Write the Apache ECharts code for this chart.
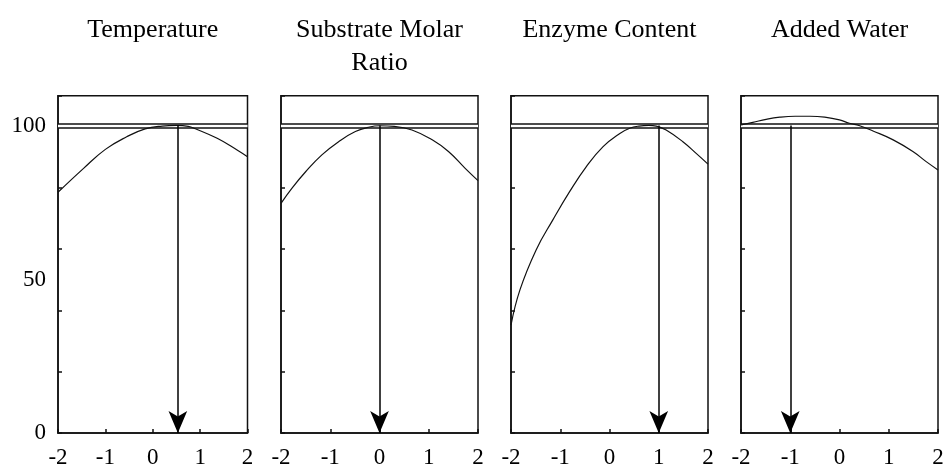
<!DOCTYPE html>
<html><head><meta charset="utf-8">
<script src="https://cdn.jsdelivr.net/npm/echarts@6/dist/echarts.min.js"></script>
<style>html,body{margin:0;padding:0;background:#fff}#c{width:947px;height:469px}</style>
</head><body><div id="c"></div>
<script>
// ---- data ----
const titles = ['Temperature', 'Substrate Molar\nRatio', 'Enzyme Content', 'Added Water'];
const xTicks = [-2, -1, 0, 1, 2];
const yLabels = [0, 50, 100];
const refLevel = 100.25;
const optimum = [0.53, 0, 1, -1];

const tempX = [-2, -1.46, -1.0, -0.55, -0.16, 0.2, 0.5, 0.75, 0.9, 1.36, 1.78, 2];
const tempY = [78.5, 86.3, 92.5, 96.6, 99.2, 100.1, 100.3, 100.0, 99.2, 96.1, 92.3, 90.1];

const ratioX = [-2, -1.78, -1.5, -1.17, -0.83, -0.49, -0.2, 0, 0.3, 0.66, 1.07, 1.4, 1.74, 2];
const ratioY = [74.9, 79.8, 85.2, 90.7, 95.0, 98.3, 99.8, 100.2, 100.0, 98.8, 95.6, 91.8, 86.3, 82.3];

const enzymeX = [-2, -1.82, -1.49, -1.15, -0.81, -0.47, -0.13, 0.21, 0.41, 0.6, 0.8, 0.95, 1.15, 1.49, 1.76, 2];
const enzymeY = [35.2, 46.6, 59.7, 69.5, 78.7, 86.9, 93.4, 97.7, 99.4, 100.1, 100.3, 100.1, 98.8, 95.0, 91.2, 87.7];

const waterX = [-2, -1.76, -1.49, -1.21, -0.9, -0.6, -0.3, 0, 0.2, 0.41, 0.68, 1.09, 1.49, 1.76, 2];
const waterY = [100.5, 101.3, 102.3, 103.0, 103.3, 103.3, 103.0, 102.1, 101.0, 100.2, 98.5, 95.6, 91.8, 88.5, 85.8];

const curvesX = [tempX, ratioX, enzymeX, waterX];
const curvesY = [tempY, ratioY, enzymeY, waterY];

// ---- layout ----
const FONT = 'Liberation Serif';
const panels = [
  {left: 58, width: 189.5},
  {left: 281, width: 197},
  {left: 511, width: 197},
  {left: 741, width: 197}
];
const gTop = 95.7, gHeight = 337.3;

const option = {
  backgroundColor: '#fff',
  animation: false,
  title: [], grid: [], xAxis: [], yAxis: [], series: []
};

panels.forEach((p, i) => {
  option.title.push({
    text: titles[i], left: p.left + p.width / 2, top: 14, textAlign: 'center', padding: 0,
    textStyle: {fontFamily: FONT, fontSize: 26, fontWeight: 'normal', color: '#000', lineHeight: 33}
  });
  option.grid.push({left: p.left, width: p.width, top: gTop, height: gHeight,
    show: true, borderColor: '#111', borderWidth: 1.5, backgroundColor: 'transparent'});
  option.xAxis.push({
    type: 'value', gridIndex: i, min: xTicks[0], max: xTicks[xTicks.length - 1], interval: 1,
    axisLine: {show: true, onZero: false, lineStyle: {color: '#111', width: 1.5}},
    axisTick: {show: true, inside: true, length: 4, lineStyle: {color: '#111', width: 1.5}},
    axisLabel: {show: true, fontFamily: FONT, fontSize: 23, color: '#000', margin: 13,
      showMinLabel: true, showMaxLabel: true},
    splitLine: {show: false}
  });
  // labelled axis
  option.yAxis.push({
    type: 'value', gridIndex: i, min: 0, max: 110, interval: 50, position: 'left',
    axisLine: {show: true, onZero: false, lineStyle: {color: '#111', width: 1.5}},
    axisTick: {show: false},
    axisLabel: {show: i === 0, fontFamily: FONT, fontSize: 23, color: '#000', margin: 12,
      formatter: v => (yLabels.indexOf(v) >= 0 ? String(v) : '')},
    splitLine: {show: false}
  });
  // minor tick axis
  option.yAxis.push({
    type: 'value', gridIndex: i, min: 0, max: 110, interval: 20, position: 'left',
    axisLine: {show: false, onZero: false},
    axisTick: {show: true, inside: true, length: 4, lineStyle: {color: '#111', width: 1.5}},
    axisLabel: {show: false},
    splitLine: {show: false}
  });
  const yIdx = i * 2;
  const pts = curvesX[i].map((x, k) => [x, curvesY[i][k]]);
  // double reference line
  option.series.push({
    type: 'line', xAxisIndex: i, yAxisIndex: yIdx, data: pts, showSymbol: false,
    lineStyle: {opacity: 0}, silent: true, z: 1,
    markLine: {
      silent: true, symbol: 'none', z: 1, label: {show: false}, animation: false,
      data: [
        {yAxis: refLevel, lineStyle: {color: '#111', width: 5.5, type: 'solid'}},
        {yAxis: refLevel, lineStyle: {color: '#fff', width: 2.4, type: 'solid'}}
      ]
    }
  });
  // curve
  option.series.push({
    type: 'line', xAxisIndex: i, yAxisIndex: yIdx, data: pts, showSymbol: false,
    smooth: 0.45, lineStyle: {color: '#111', width: 1.2}, z: 3, silent: true
  });
  // arrow at optimum
  option.series.push({
    type: 'line', xAxisIndex: i, yAxisIndex: yIdx, data: [], silent: true, z: 4,
    markLine: {
      silent: true, z: 4, label: {show: false}, animation: false,
      symbol: ['none', 'arrow'], symbolSize: [14, 22],
      lineStyle: {color: '#000', width: 1.5, type: 'solid'},
      data: [[{coord: [optimum[i], refLevel]}, {coord: [optimum[i], 0]}]]
    }
  });
});

const chart = echarts.init(document.getElementById('c'), null, {renderer: 'canvas'});
chart.setOption(option);
</script>
</body></html>
